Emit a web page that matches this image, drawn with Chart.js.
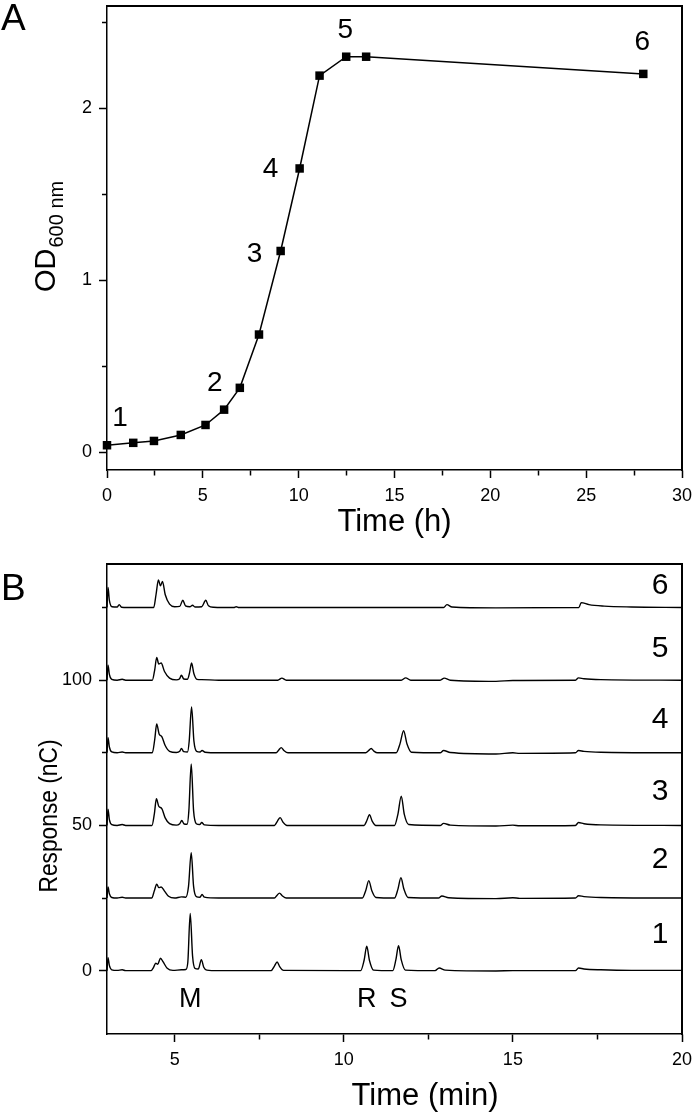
<!DOCTYPE html>
<html>
<head>
<meta charset="utf-8">
<script src="https://cdn.jsdelivr.net/npm/chart.js@4"></script>
<style>
  body { margin: 0; background: #fff; }
  #wrap { position: relative; width: 693px; height: 1115px; }
  canvas { position: absolute; left: 0; }
  #chartA { top: 0; }
  #chartB { top: 540px; }
</style>
</head>
<body>
<div id="wrap">
  <canvas id="chartA" width="693" height="540"></canvas>
  <canvas id="chartB" width="693" height="575"></canvas>
</div>
<script>
// Panel A - growth curve
const growthTime = [0, 1.37, 2.45, 3.85, 5.14, 6.11, 6.93, 7.93, 9.06, 10.05, 11.09, 12.48, 13.52, 27.98];
const growthOD = [0.04, 0.054, 0.065, 0.10, 0.158, 0.247, 0.374, 0.684, 1.17, 1.65, 2.19, 2.30, 2.30, 2.20];
const sampleLabels = ['1', '2', '3', '4', '5', '6'];
const samplePointIndex = [0, 6, 8, 9, 11, 13];
const hourTicks = [0, 2.5, 5, 7.5, 10, 12.5, 15, 17.5, 20, 22.5, 25, 27.5, 30];
const hourTickLabels = [0, 5, 10, 15, 20, 25, 30];
const odTicks = [0, 0.5, 1, 1.5, 2, 2.5];
const odTickLabels = [0, 1, 2];

// Panel B - chromatograms, [time (min), response above own baseline (nC)]
const trace1 = [[3.0,0],[3.03,4.5],[3.07,1.8],[3.14,0.3],[3.3,0.1],[3.45,0.3],[3.55,0],[4.3,0],[4.38,1.2],[4.44,2.6],[4.5,2.2],[4.58,4.3],[4.66,3.0],[4.78,0.8],[4.95,0.1],[5.2,0.3],[5.33,0.4],[5.39,3],[5.46,19.7],[5.53,5],[5.6,0.8],[5.7,0.6],[5.79,3.8],[5.86,1.2],[5.95,0.2],[6.3,0],[7.85,0],[7.95,1.6],[8.03,3.0],[8.1,1.5],[8.22,0.1],[10.5,0],[10.6,3.5],[10.68,8.4],[10.76,3.5],[10.88,0.2],[11.45,0],[11.54,3.7],[11.62,8.6],[11.7,3.7],[11.82,0.2],[12.7,0],[12.82,0.9],[13.0,0.2],[14.5,-0.1],[15.0,0],[16.85,0],[16.94,0.9],[17.1,0.6],[17.6,0.3],[18.5,0.1],[20,0.1]];
const trace2 = [[3.0,0],[3.03,3.8],[3.07,1.5],[3.14,0.2],[3.3,0],[3.45,0.3],[3.55,0],[4.32,0],[4.4,2.5],[4.47,4.8],[4.53,3.6],[4.6,3.8],[4.7,2.4],[4.82,0.6],[5.0,0],[5.2,0.4],[5.33,0.3],[5.41,4],[5.49,15.6],[5.56,4],[5.64,0.5],[5.75,0.3],[5.81,1.2],[5.88,0.3],[6.3,0],[7.95,0],[8.03,1],[8.1,1.7],[8.18,0.8],[8.3,0],[10.55,0],[10.65,2.6],[10.74,6.0],[10.83,2.5],[10.95,0.2],[11.5,0],[11.6,3],[11.69,7.0],[11.78,3],[11.9,0.2],[12.8,0],[12.9,0.7],[13.1,0.1],[14.5,-0.2],[15.0,0.1],[15.2,-0.1],[16.85,0],[16.94,0.8],[17.1,0.5],[17.6,0.2],[20,0]];
const trace3 = [[3.0,0],[3.03,5.6],[3.07,2],[3.14,0.3],[3.3,0],[3.45,0.3],[3.55,0],[4.33,0],[4.4,4],[4.46,9.2],[4.53,6.6],[4.62,5.8],[4.72,2.6],[4.85,0.6],[5.05,0.1],[5.15,0.6],[5.21,1.7],[5.28,0.5],[5.37,0.4],[5.42,5],[5.49,21.2],[5.56,5],[5.64,0.6],[5.74,0.3],[5.8,1],[5.88,0.2],[6.3,0],[7.95,0],[8.04,1.5],[8.12,2.7],[8.2,1.2],[8.32,0],[10.6,0],[10.68,1.6],[10.76,3.7],[10.84,1.5],[10.95,0],[11.5,0],[11.6,3.8],[11.7,10.1],[11.79,3.8],[11.92,0.3],[12.85,0],[12.95,0.7],[13.15,0.1],[14.5,-0.2],[15.0,0.1],[15.2,-0.1],[16.85,0],[16.94,1],[17.1,0.6],[17.6,0.2],[20,0]];
const trace4 = [[3.0,0],[3.03,5.2],[3.07,2],[3.14,0.3],[3.3,0],[3.45,0.3],[3.55,0],[4.34,0],[4.41,4.5],[4.47,9.9],[4.54,6.5],[4.62,5.6],[4.72,2.5],[4.85,0.5],[5.05,0.1],[5.15,0.5],[5.2,1.5],[5.27,0.4],[5.38,0.3],[5.43,4],[5.5,15.8],[5.57,4],[5.65,0.5],[5.75,0.3],[5.81,0.8],[5.9,0.2],[6.3,0],[8.0,0],[8.08,1],[8.15,1.8],[8.23,0.8],[8.35,0],[10.65,0],[10.73,0.7],[10.81,1.5],[10.89,0.6],[11.0,0],[11.55,0],[11.66,3],[11.77,7.6],[11.87,3],[12.0,0.2],[12.85,0],[12.95,0.8],[13.15,0.1],[14.5,-0.4],[15.0,0],[15.2,-0.2],[16.85,0],[16.94,0.8],[17.1,0.5],[17.6,0.2],[20,0]];
const trace5 = [[3.0,0],[3.03,5.2],[3.07,2],[3.14,0.3],[3.3,0],[3.45,0.3],[3.55,0],[4.34,0],[4.41,3.5],[4.47,7.8],[4.53,5.6],[4.6,5.9],[4.7,3],[4.85,0.7],[5.05,0.1],[5.14,0.4],[5.2,1.7],[5.27,0.4],[5.38,0.3],[5.44,2.5],[5.5,5.9],[5.57,2.2],[5.66,0.3],[5.8,0.2],[6.3,0],[8.05,0],[8.17,0.7],[8.3,0],[11.7,0],[11.83,0.8],[11.98,0],[12.85,0],[12.97,0.7],[13.15,0],[14.5,-0.4],[15.0,-0.1],[16.85,0],[16.94,0.8],[17.1,0.5],[17.6,0.2],[20,0]];
const trace6 = [[3.0,0],[3.03,6.9],[3.07,2.5],[3.15,0.3],[3.3,0.2],[3.36,1],[3.43,0.1],[3.6,0],[4.38,0],[4.45,4.5],[4.52,9.5],[4.58,7.5],[4.64,9.0],[4.72,4.5],[4.85,1.2],[5.0,0.3],[5.15,0.4],[5.24,2.5],[5.32,0.6],[5.45,0.3],[5.53,0.8],[5.6,0.2],[5.8,0.3],[5.92,2.5],[6.0,0.6],[6.15,0.1],[6.75,0],[6.82,0.3],[6.9,0],[12.95,0],[13.05,1.0],[13.2,0.2],[14.5,-0.1],[16.95,0],[17.02,1.7],[17.25,1.0],[17.7,0.5],[18.5,0.2],[20,0]];
const traces = [trace1, trace2, trace3, trace4, trace5, trace6];
const traceOffsets = [0, 25, 50, 75, 100, 125];
const traceNames = ['1', '2', '3', '4', '5', '6'];
const peakNames = ['M', 'R', 'S'];
const peakTimes = [5.46, 10.68, 11.62];
const minTicks = [5, 7.5, 10, 12.5, 15, 17.5, 20];
const minTickLabels = [5, 10, 15, 20];
const respTicks = [0, 25, 50, 75, 100, 125];
const respTickLabels = [0, 50, 100];

const FONT = '"Liberation Sans", Arial, sans-serif';
Chart.defaults.font.family = FONT;
Chart.defaults.color = '#000';

function drawText(ctx, text, x, y, size, align, baseline, rotate, fitWidth) {
    ctx.save();
    ctx.font = size + 'px ' + FONT;
    ctx.fillStyle = '#000';
    ctx.textAlign = align || 'center';
    ctx.textBaseline = baseline || 'middle';
    ctx.translate(x, y);
    if (rotate) ctx.rotate(rotate);
    if (fitWidth) {
        const w = ctx.measureText(text).width;
        ctx.scale(fitWidth / w, 1);
    }
    ctx.fillText(text, 0, 0);
    ctx.restore();
}

function axis(allTicks, labeled, min, max, pos, size) {
    return {
        type: 'linear',
        position: pos,
        min: min,
        max: max,
        afterBuildTicks: s => { s.ticks = allTicks.map(v => ({ value: v })); },
        afterFit: s => {
            if (pos === 'left') s.width = size; else s.height = size;
            s.paddingLeft = s.paddingRight = s.paddingTop = s.paddingBottom = 0;
        },
        grid: {
            drawOnChartArea: false,
            drawTicks: true,
            tickLength: 8,
            tickWidth: 1.5,
            tickColor: '#000',
            // minor ticks are shorter
            tickBorderDash: c => (c.tick && labeled.includes(c.tick.value)) ? [] : (pos === 'left' ? [0, 3, 5, 20] : [5, 20])
        },
        border: { color: '#000', width: 1.5 },
        ticks: {
            autoSkip: false,
            maxRotation: 0,
            padding: 7,
            font: { size: 18 },
            color: '#000',
            callback: v => labeled.includes(v) ? String(v) : ''
        }
    };
}

// top and right edges of the box
const framePlugin = {
    id: 'boxEdges',
    afterDraw(chart) {
        const a = chart.chartArea, ctx = chart.ctx;
        ctx.save();
        ctx.setLineDash([]);
        ctx.fillStyle = '#000';
        ctx.fillRect(a.left, a.top - 1, a.right - a.left + 1, 2);
        ctx.fillRect(a.right - 1, a.top - 1, 2, a.bottom - a.top + 2);
        ctx.restore();
    }
};

// label offsets (px) from their sample point
const sampleLabelOffsets = [[13, -27], [-25, -5], [-26, 3], [-29, 1], [-1, -26], [-1, -32]];

const panelAText = {
    id: 'panelAText',
    afterDraw(chart) {
        const ctx = chart.ctx, a = chart.chartArea;
        drawText(ctx, 'A', 1, 30, 37, 'left', 'alphabetic');
        drawText(ctx, 'Time (h)', (a.left + a.right) / 2, 531, 31, 'center', 'alphabetic');
        // OD with subscript
        ctx.save();
        ctx.font = '29px ' + FONT;
        const w = ctx.measureText('OD').width;
        ctx.restore();
        drawText(ctx, 'OD', 55, 292, 29, 'left', 'alphabetic', -Math.PI / 2);
        drawText(ctx, '600 nm', 63, 292 - w - 1, 20, 'left', 'alphabetic', -Math.PI / 2);
        const pts = chart.getDatasetMeta(0).data;
        sampleLabels.forEach((txt, i) => {
            const p = pts[samplePointIndex[i]];
            const off = sampleLabelOffsets[i];
            drawText(ctx, txt, p.x + off[0], p.y + off[1], 28, 'center', 'middle');
        });
    }
};

new Chart(document.getElementById('chartA'), {
    type: 'line',
    data: {
        datasets: [{
            data: growthTime.map((t, i) => ({ x: t, y: growthOD[i] })),
            borderColor: '#000',
            borderWidth: 1.5,
            pointStyle: 'rect',
            pointRadius: 6,
            pointBackgroundColor: '#000',
            pointBorderWidth: 0,
            tension: 0,
            clip: false
        }]
    },
    options: {
        responsive: false,
        animation: false,
        devicePixelRatio: 1,
        layout: { padding: { top: 0, right: 11, left: 0, bottom: 0 } },
        plugins: { legend: { display: false }, tooltip: { enabled: false } },
        scales: {
            x: axis(hourTicks, hourTickLabels, 0, 30, 'bottom', 70),
            y: axis(odTicks, odTickLabels, -0.104, 2.595, 'left', 107)
        }
    },
    plugins: [framePlugin, panelAText]
});

// trace name label heights (nC) in the right margin of the plot
const traceLabelY = [12.5, 38.1, 61.6, 86.5, 110.7, 132.5];

const panelBText = {
    id: 'panelBText',
    afterDraw(chart) {
        const ctx = chart.ctx;
        const xs = chart.scales.x, ys = chart.scales.y;
        drawText(ctx, 'B', 1, 60, 37, 'left', 'alphabetic');
        drawText(ctx, 'Time (min)', 425, 565, 31, 'center', 'alphabetic');
        drawText(ctx, 'Response (nC)', 57, 276, 26, 'center', 'alphabetic', -Math.PI / 2, 153);
        traceNames.forEach((txt, i) => {
            drawText(ctx, txt, xs.getPixelForValue(19.35), ys.getPixelForValue(traceLabelY[i]), 30, 'center', 'middle');
        });
        peakNames.forEach((txt, i) => {
            drawText(ctx, txt, xs.getPixelForValue(peakTimes[i]), ys.getPixelForValue(-10), 27, 'center', 'middle');
        });
    }
};

new Chart(document.getElementById('chartB'), {
    type: 'line',
    data: {
        datasets: traces.map((tr, i) => ({
            data: tr.map(p => ({ x: p[0], y: p[1] + traceOffsets[i] })),
            borderColor: '#000',
            borderWidth: 1.4,
            pointRadius: 0,
            cubicInterpolationMode: 'monotone'
        }))
    },
    options: {
        responsive: false,
        animation: false,
        devicePixelRatio: 1,
        layout: { padding: { top: 24, right: 11, left: 0, bottom: 0 } },
        plugins: { legend: { display: false }, tooltip: { enabled: false } },
        scales: {
            x: axis(minTicks, minTickLabels, 3, 20, 'bottom', 81),
            y: axis(respTicks, respTickLabels, -21.8, 140, 'left', 107)
        }
    },
    plugins: [framePlugin, panelBText]
});
</script>
</body>
</html>
